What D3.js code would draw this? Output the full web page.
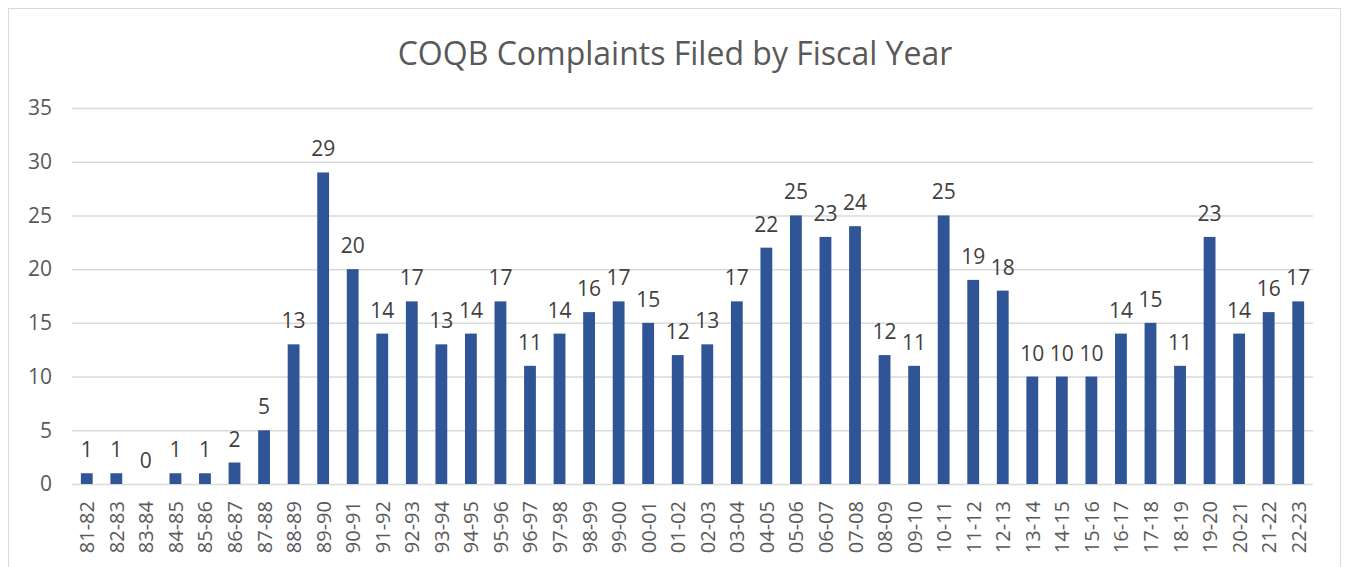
<!DOCTYPE html>
<html><head><meta charset="utf-8">
<script src="https://cdn.jsdelivr.net/npm/d3@7"></script>
<style>body{margin:0;background:#fff;}svg{display:block;}</style>
</head><body>
<script>
const categories = ["81-82","82-83","83-84","84-85","85-86","86-87","87-88","88-89","89-90","90-91","91-92","92-93","93-94","94-95","95-96","96-97","97-98","98-99","99-00","00-01","01-02","02-03","03-04","04-05","05-06","06-07","07-08","08-09","09-10","10-11","11-12","12-13","13-14","14-15","15-16","16-17","17-18","18-19","19-20","20-21","21-22","22-23"];
const complaints = [1,1,0,1,1,2,5,13,29,20,14,17,13,14,17,11,14,16,17,15,12,13,17,22,25,23,24,12,11,25,19,18,10,10,10,14,15,11,23,14,16,17];
const yTicks = [0,5,10,15,20,25,30,35];
const title = "COQB Complaints Filed by Fiscal Year";

const W = 1347, H = 567;
const font = "'Open Sans', Lato, sans-serif";
const svg = d3.select("body").append("svg").attr("width", W).attr("height", H);

svg.append("rect").attr("x", 8.5).attr("y", 8.5).attr("width", 1332).attr("height", 600)
  .attr("fill", "#fff").attr("stroke", "#d9d9d9").attr("stroke-width", 1);

const m = {left: 72, right: 1313, top: 108, bottom: 484};
const x = d3.scaleBand().domain(categories).range([m.left, m.right]).paddingInner(0.6).paddingOuter(0.3);
const y = d3.scaleLinear().domain([0, 35]).range([m.bottom, m.top]);

svg.append("text").attr("x", 675).attr("y", 65).attr("text-anchor", "middle")
  .attr("font-family", font).attr("font-size", 32).attr("fill", "#595959").text(title);

const yAxis = svg.append("g").attr("transform", `translate(${m.left},0)`)
  .call(d3.axisLeft(y).tickValues(yTicks).tickSize(-(m.right - m.left)).tickPadding(20));
yAxis.select(".domain").remove();
yAxis.selectAll("line").attr("stroke", "#d9d9d9").attr("stroke-width", 1.5);
yAxis.selectAll("text").attr("font-family", font).attr("font-size", 21).attr("fill", "#595959");

const xAxis = svg.append("g").attr("transform", `translate(0,${m.bottom})`)
  .call(d3.axisBottom(x).tickSize(0).tickPadding(0));
xAxis.select(".domain").remove();
xAxis.selectAll("text").attr("font-family", font).attr("font-size", 20).attr("fill", "#595959")
  .attr("text-anchor", "end").attr("dy", null).attr("y", 0)
  .attr("transform", "translate(0,17) rotate(-90)").attr("dominant-baseline", "central");

svg.append("g").selectAll("rect").data(complaints).join("rect")
  .attr("x", (d, i) => x(categories[i]))
  .attr("y", d => y(d))
  .attr("width", x.bandwidth())
  .attr("height", d => y(0) - y(d))
  .attr("fill", "#2f5597");

svg.append("g").selectAll("text").data(complaints).join("text")
  .attr("x", (d, i) => x(categories[i]) + x.bandwidth() / 2)
  .attr("y", d => y(d) - 16)
  .attr("text-anchor", "middle")
  .attr("font-family", font).attr("font-size", 21).attr("fill", "#404040")
  .text(d => d);
</script>
</body></html>
